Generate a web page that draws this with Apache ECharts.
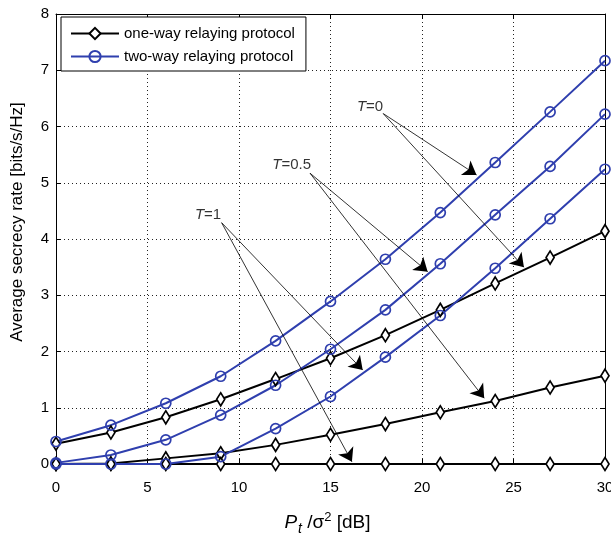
<!DOCTYPE html>
<html>
<head>
<meta charset="utf-8">
<script src="https://cdn.jsdelivr.net/npm/echarts@6/dist/echarts.min.js"></script>
<style>
  html, body { margin: 0; padding: 0; background: #fff; }
  #chart1 { width: 611px; height: 536px; }
</style>
</head>
<body>
<div id="chart1"></div>
<script>
// 数据
let snrDb = [0, 3, 6, 9, 12, 15, 18, 21, 24, 27, 30];
let twoWayT0 = [0.40, 0.69, 1.08, 1.56, 2.19, 2.89, 3.64, 4.47, 5.36, 6.26, 7.17];
let twoWayT05 = [0.02, 0.16, 0.43, 0.87, 1.40, 2.04, 2.74, 3.56, 4.43, 5.29, 6.22];
let twoWayT1 = [0, 0, 0, 0.13, 0.63, 1.20, 1.90, 2.64, 3.48, 4.36, 5.24];
let oneWayT0 = [0.36, 0.56, 0.83, 1.15, 1.51, 1.88, 2.29, 2.74, 3.21, 3.67, 4.14];
let oneWayT05 = [0, 0.01, 0.10, 0.19, 0.34, 0.52, 0.71, 0.92, 1.12, 1.36, 1.57];
let oneWayT1 = [0, 0, 0, 0, 0, 0, 0, 0, 0, 0, 0];

// 注释: 文字位置与箭头 (数据坐标)
let noteLabels = [
  [17.16, 6.35, '0'],
  [12.88, 5.32, '0.5'],
  [8.31, 4.43, '1']
];
let noteArrows = [
  [[17.88, 6.23], [22.98, 5.14]],
  [[17.88, 6.23], [25.57, 3.50]],
  [[13.88, 5.17], [20.31, 3.42]],
  [[13.88, 5.17], [23.40, 1.17]],
  [[9.05, 4.29], [16.76, 1.67]],
  [[9.05, 4.29], [16.17, 0.04]]
];

let ONE_WAY = 'one-way relaying protocol';
let TWO_WAY = 'two-way relaying protocol';
let FONT = "'Liberation Sans', Arial, sans-serif";
let BLUE = '#2f3fae';

function pairs(ys) {
  return snrDb.map((x, i) => [x, ys[i]]);
}

function oneWaySeries(ys) {
  return {
    name: ONE_WAY,
    type: 'line',
    data: pairs(ys),
    symbol: 'diamond',
    symbolSize: [8, 13],
    color: '#000',
    lineStyle: { color: '#000', width: 2 },
    itemStyle: { color: '#fff', borderColor: '#000', borderWidth: 1.8 },
    animation: false
  };
}

function twoWaySeries(ys) {
  return {
    name: TWO_WAY,
    type: 'line',
    data: pairs(ys),
    symbol: 'circle',
    symbolSize: 10,
    color: BLUE,
    lineStyle: { color: BLUE, width: 2 },
    itemStyle: { color: 'rgba(255,255,255,0)', borderColor: BLUE, borderWidth: 1.7 },
    animation: false
  };
}

function display() {
  let myChart = echarts.init(document.getElementById('chart1'));

  let axisCommon = {
    type: 'value',
    axisLine: { show: true, onZero: false, lineStyle: { color: '#000', width: 1 } },
    axisTick: { show: true, inside: true, length: 5, lineStyle: { color: '#000' } },
    axisLabel: { color: '#000', fontSize: 15, fontFamily: FONT },
    splitLine: { show: false }
  };
  let dotted = { show: true, lineStyle: { color: '#222', width: 1, type: [1, 3] } };

  let option = {
    animation: false,
    backgroundColor: '#fff',
    grid: { left: 56, right: 6, top: 14, bottom: 72, outerBoundsMode: 'none', containLabel: false },
    legend: {
      data: [ONE_WAY, TWO_WAY],
      orient: 'vertical',
      left: 61,
      top: 17,
      itemWidth: 48,
      itemHeight: 14,
      itemGap: 8,
      padding: [9, 11, 7, 9],
      borderColor: '#000',
      borderWidth: 1,
      backgroundColor: '#fff',
      textStyle: { color: '#000', fontSize: 15, fontFamily: FONT }
    },
    xAxis: [
      Object.assign({}, axisCommon, {
        min: 0, max: 30, interval: 5,
        position: 'bottom',
        axisLabel: Object.assign({}, axisCommon.axisLabel, { margin: 16 }),
        splitLine: dotted,
        name: '{i|P}{sub|t}{n| /σ}{sup|2}{n| [dB]}',
        nameLocation: 'middle',
        nameGap: 46,
        nameTextStyle: {
          fontFamily: FONT,
          padding: [0, 6, 0, 0],
          rich: {
            i: { fontSize: 19, fontStyle: 'italic', color: '#000', fontFamily: FONT },
            sub: { fontSize: 14, fontStyle: 'italic', color: '#000', fontFamily: FONT, padding: [12, 0, 0, 1] },
            n: { fontSize: 19, color: '#000', fontFamily: FONT },
            sup: { fontSize: 13, color: '#000', fontFamily: FONT, padding: [0, 0, 11, 0] }
          }
        }
      }),
      Object.assign({}, axisCommon, {
        min: 0, max: 30, interval: 5,
        position: 'top',
        axisLabel: { show: false }
      })
    ],
    yAxis: [
      Object.assign({}, axisCommon, {
        min: 0, max: 8, interval: 1,
        position: 'left',
        axisLabel: Object.assign({}, axisCommon.axisLabel, { margin: 7 }),
        splitLine: dotted,
        name: 'Average secrecy rate [bits/s/Hz]',
        nameLocation: 'middle',
        nameGap: 30,
        nameTextStyle: { color: '#000', fontSize: 17, fontFamily: FONT, padding: [0, 0, 0, 34] }
      }),
      Object.assign({}, axisCommon, {
        min: 0, max: 8, interval: 1,
        position: 'right',
        axisLabel: { show: false }
      })
    ],
    series: [
      oneWaySeries(oneWayT0),
      oneWaySeries(oneWayT05),
      oneWaySeries(oneWayT1),
      twoWaySeries(twoWayT0),
      twoWaySeries(twoWayT05),
      twoWaySeries(twoWayT1),
      {
        name: 'notes',
        type: 'scatter',
        data: noteLabels,
        symbolSize: 1,
        itemStyle: { color: 'rgba(0,0,0,0)' },
        silent: true,
        z: 5,
        label: {
          show: true,
          position: 'inside',
          formatter: (p) => '{i|T}{n|=' + p.data[2] + '}',
          rich: {
            i: { fontSize: 15, fontStyle: 'italic', color: '#000', fontFamily: FONT },
            n: { fontSize: 15, color: '#000', fontFamily: FONT }
          }
        },
        animation: false
      },
      {
        name: 'arrows',
        type: 'line',
        data: [],
        silent: true,
        z: 6,
        markLine: {
          silent: true,
          animation: false,
          symbol: ['none', 'arrow'],
          symbolSize: 13,
          label: { show: false },
          itemStyle: { color: '#000' },
          lineStyle: { color: '#000', width: 0.8, type: 'solid' },
          data: noteArrows.map((a) => [{ coord: a[0] }, { coord: a[1] }])
        }
      }
    ]
  };

  myChart.setOption(option);
  return myChart;
}

display();
</script>
</body>
</html>
